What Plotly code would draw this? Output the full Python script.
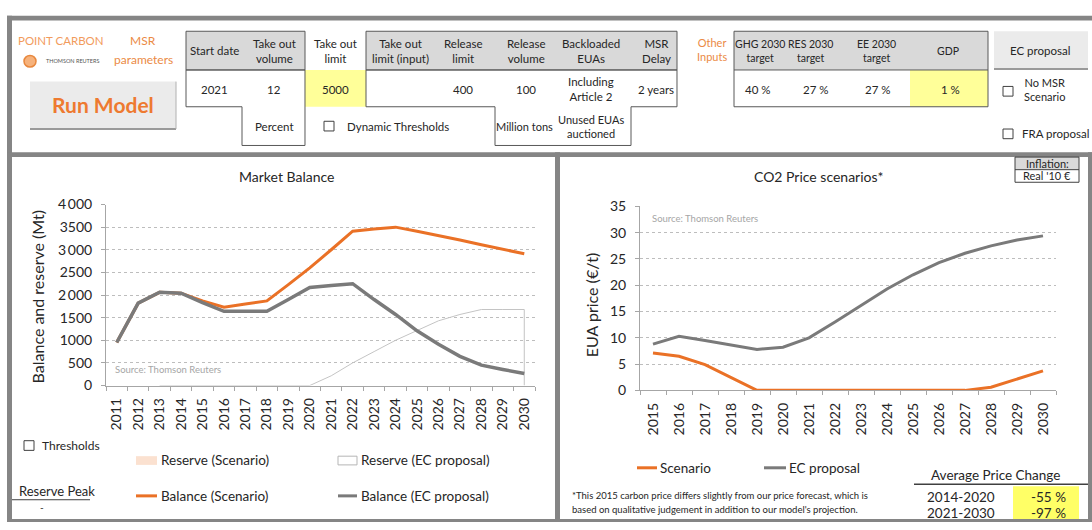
import plotly.graph_objects as go

############################################################
# Data #####################################################

mb_years = ['2011', '2012', '2013', '2014', '2015', '2016', '2017', '2018', '2019', '2020',
            '2021', '2022', '2023', '2024', '2025', '2026', '2027', '2028', '2029', '2030']
balance_scenario = [950, 1820, 2060, 2040, 1870, 1730, 1800, 1870, 2230, 2600,
                    3000, 3410, 3460, 3500, 3410, 3320, 3215, 3110, 3010, 2910]
balance_ec = [950, 1820, 2060, 2040, 1830, 1640, 1640, 1640, 1900, 2165,
              2210, 2250, 1900, 1570, 1210, 910, 645, 450, 355, 265]
reserve_scenario = [None, None, 0, 0, 0, 0, 0, 0, 0, 0,
                    0, 0, 0, 0, 0, 0, 0, 0, 0, 0]
reserve_ec = [None, None, 0, 0, 0, 0, 0, 0, 0, 0,
              215, 500, 750, 1000, 1215, 1430, 1570, 1680, 1680, 1680]
mb_tickvals = [0, 500, 1000, 1500, 2000, 2500, 3000, 3500, 4000]
mb_ticktext = ['0', '500', '1000', '1500', '2\u2009000', '2500', '3\u2009000', '3500', '4\u2009000']

px_years = ['2015', '2016', '2017', '2018', '2019', '2020', '2021', '2022',
            '2023', '2024', '2025', '2026', '2027', '2028', '2029', '2030']
price_scenario = [7.1, 6.5, 4.9, 2.4, 0, 0, 0, 0, 0, 0, 0, 0, 0, 0.6, 2.1, 3.7]
price_ec = [8.8, 10.3, 9.5, 8.6, 7.8, 8.2, 10.0, 13.0, 16.2, 19.3, 22.0, 24.3, 26.1, 27.5, 28.6, 29.4]
px_tickvals = [0, 5, 10, 15, 20, 25, 30, 35]

msr_headers = ['Start date', 'Take out<br>volume', 'Take out<br>limit', 'Take out<br>limit (input)',
               'Release<br>limit', 'Release<br>volume', 'Backloaded<br>EUAs', 'MSR<br>Delay']
msr_values = ['2021', '12', '5000', '', '400', '100', 'Including<br>Article 2', '2 years']
other_headers = ['GHG 2030<br>target', 'RES 2030<br>target', 'EE 2030<br>target', 'GDP']
other_values = ['40 %', '27 %', '27 %', '1 %']
price_periods = ['2014-2020', '2021-2030']
price_changes = ['-55 %', '-97 %']

############################################################
# Style ####################################################

W, H = 1092, 530
FONT = 'Lato'
ORANGE = '#ea7126'
DGRAY = '#7a7a7a'
FRAME = '#858585'
TXT = '#262626'

def X(p):
  return p / W

def Y(p):
  return 1 - p / H

shapes = []
annots = []

def rect(x0, y0, x1, y1, fill='rgba(0,0,0,0)', line=None, width=1):
  shapes.append(dict(type='rect', xref='paper', yref='paper',
    x0=X(x0), x1=X(x1), y0=Y(y0), y1=Y(y1), fillcolor=fill,
    line=dict(color=line or 'rgba(0,0,0,0)', width=width if line else 0), layer='below'))

def seg(x0, y0, x1, y1, color, width=1, dash='solid'):
  shapes.append(dict(type='line', xref='paper', yref='paper',
    x0=X(x0), x1=X(x1), y0=Y(y0), y1=Y(y1), line=dict(color=color, width=width, dash=dash)))

def path(pts, color='#595959', width=1):
  d = 'M ' + ' L '.join('%f,%f' % (X(a), Y(b)) for a, b in pts) + ' Z'
  shapes.append(dict(type='path', xref='paper', yref='paper', path=d,
    line=dict(color=color, width=width), fillcolor='rgba(0,0,0,0)'))

def text(x, y, s, size=12, color=TXT, anchor='center', angle=0, bold=False, family=FONT):
  if bold:
    s = '<b>' + s + '</b>'
  annots.append(dict(xref='paper', yref='paper', x=X(x), y=Y(y), text=s, showarrow=False,
    xanchor=anchor, yanchor='middle', textangle=angle,
    font=dict(family=family, size=size, color=color)))

def checkbox(x, y):
  rect(x - 5, y - 5, x + 5, y + 5, fill='white', line='#404040', width=1)

############################################################
# Frame and top panel ######################################

rect(7, 7, 1092, 12, fill=FRAME)
rect(7, 7, 12, 530, fill=FRAME)
rect(7, 148, 1092, 153, fill=FRAME)
rect(555, 148, 560, 530, fill=FRAME)
rect(7, 527, 1092, 530, fill=FRAME)
rect(1088, 148, 1092, 530, fill=FRAME)

text(61, 33, 'POINT CARBON', size=11.5, color='#f29b5c')
shapes.append(dict(type='circle', xref='paper', yref='paper', x0=X(24), x1=X(36), y0=Y(48), y1=Y(60),
  fillcolor='#f6b27c', line=dict(color='#e8883e', width=1.5)))
text(72, 54, 'THOMSON REUTERS', size=5.5, color='#555555')
text(143, 33, 'MSR', size=12, color='#eb8a45')
text(143, 52, 'parameters', size=12, color='#eb8a45')

rect(30, 75, 176, 124, fill='#ebebeb')
seg(30, 124, 176, 124, '#9a9a9a', 2)
seg(176, 75, 176, 124, '#b0b0b0', 1)
text(103, 99, 'Run Model', size=21, color='#ee7a30', bold=True)

# MSR table
rect(186, 23, 305, 63, fill='#d9d9d9', line='#595959')
rect(366, 23, 677, 63, fill='#d9d9d9', line='#595959')
rect(305, 63, 366, 101, fill='#ffff99')
path([(186, 63), (305, 63), (305, 141), (242, 141), (242, 101), (186, 101)])
path([(366, 63), (677, 63), (677, 101), (631, 101), (631, 141), (495, 141), (495, 101), (366, 101)])
msr_x = [214, 274, 335, 400, 463, 526, 591, 656]
for i, h in enumerate(msr_headers):
  text(msr_x[i], 43, h, size=11.5)
  text(msr_x[i], 83, msr_values[i], size=11.5)
text(274, 121, 'Percent', size=11.5)
checkbox(329, 121)
text(345, 121, 'Dynamic Thresholds', size=11.5, anchor='left')
text(524, 121, 'Million tons', size=11)
text(591, 121, 'Unused EUAs<br>auctioned', size=11)

# other inputs table
text(712, 42, 'Other<br>Inputs', size=11, color='#eb8a45')
rect(734, 23, 988, 63, fill='#d9d9d9')
rect(910, 63, 988, 101, fill='#ffff99')
rect(734, 23, 988, 101, line='#595959')
seg(734, 63, 988, 63, '#595959')
oth_hx = [760, 810, 876, 948]
oth_vx = [758, 816, 878, 950]
for i, h in enumerate(other_headers):
  text(oth_hx[i], 43, h, size=10.5)
  text(oth_vx[i], 83, other_values[i], size=11.5)

rect(994, 23, 1088, 62, fill='#ebebeb')
seg(994, 62, 1088, 62, '#9a9a9a', 2)
text(1040, 43, 'EC proposal', size=11.5)
checkbox(1008, 85)
text(1044, 83, 'No MSR<br>Scenario', size=11)
checkbox(1008, 129)
text(1020, 129, 'FRA proposal', size=11.5, anchor='left')

############################################################
# Market balance panel #####################################

text(286, 173, 'Market Balance', size=14)
text(37, 298, 'Balance and reserve (Mt)', size=16, angle=-90)
text(113, 372, 'Source: Thomson Reuters', size=9.5, color='#a6a6a6', anchor='left')

checkbox(29, 451)
text(40, 451, 'Thresholds', size=12, anchor='left')
rect(136, 462, 157, 471, fill='#fbe1d0')
text(159, 466, 'Reserve (Scenario)', size=13.5, anchor='left')
rect(338, 462, 357, 471, fill='white', line='#b5b5b5')
text(359, 466, 'Reserve (EC proposal)', size=13.5, anchor='left')
seg(136, 503, 157, 503, ORANGE, 3)
text(159, 503, 'Balance (Scenario)', size=13.5, anchor='left')
seg(338, 503, 357, 503, DGRAY, 3)
text(359, 503, 'Balance (EC proposal)', size=13.5, anchor='left')
text(17, 498, 'Reserve Peak', size=13, anchor='left')
seg(12, 507, 90, 507, '#404040', 1)
text(42, 515, '-', size=10)

############################################################
# CO2 price panel ##########################################

text(818, 173, 'CO2 Price scenarios*', size=14)
rect(1015, 153, 1079, 166, fill='#d9d9d9')
rect(1015, 153, 1079, 179, line='#404040')
seg(1015, 166, 1079, 166, '#404040')
text(1047, 160, 'Inflation:', size=11)
text(1047, 172.5, "Real '10 €", size=11)
text(591, 306, 'EUA price (€/t)', size=16, angle=-90)
text(650, 216, 'Source: Thomson Reuters', size=9.5, color='#a6a6a6', anchor='left')

seg(637, 474, 657, 474, ORANGE, 3)
text(658, 474, 'Scenario', size=13.5, anchor='left')
seg(764, 474, 786, 474, DGRAY, 3)
text(787, 474, 'EC proposal', size=13.5, anchor='left')
text(570, 503, '*This 2015 carbon price differs slightly from our price forecast, which is', size=9.5, anchor='left')
text(570, 517, "based on qualitative judgement in addition to our model's projection.", size=9.5, anchor='left')

text(995, 481, 'Average Price Change', size=13.5)
seg(914, 491, 1088, 491, '#404040', 1.5)
rect(1013, 493, 1079, 527, fill='#ffff66')
for i, p in enumerate(price_periods):
  yy = [504, 521][i]
  text(961, yy, p, size=13.5)
  text(1048, yy, price_changes[i], size=13.5)

############################################################
# Traces ###################################################

fig = go.Figure()

fig.add_trace(go.Scatter(x=mb_years, y=reserve_scenario, mode='lines', fill='tozeroy',
  fillcolor='#fbe1d0', line=dict(width=0, color='#fbe1d0'), xaxis='x', yaxis='y'))
fig.add_trace(go.Scatter(x=mb_years + [mb_years[-1]], y=reserve_ec + [0], mode='lines',
  line=dict(width=1, color='#c4c4c4'), xaxis='x', yaxis='y'))
fig.add_trace(go.Scatter(x=mb_years, y=balance_scenario, mode='lines',
  line=dict(width=3, color=ORANGE), xaxis='x', yaxis='y'))
fig.add_trace(go.Scatter(x=mb_years, y=balance_ec, mode='lines',
  line=dict(width=3.5, color=DGRAY), xaxis='x', yaxis='y'))

fig.add_trace(go.Scatter(x=px_years, y=price_scenario, mode='lines',
  line=dict(width=3, color=ORANGE), xaxis='x2', yaxis='y2'))
fig.add_trace(go.Scatter(x=px_years, y=price_ec, mode='lines',
  line=dict(width=3, color=DGRAY), xaxis='x2', yaxis='y2'))

xcommon = dict(type='category', tickangle=-90, tickson='boundaries', ticks='outside', ticklen=4,
  tickcolor='#a6a6a6', showline=True, linecolor='#a6a6a6', showgrid=False, ticklabelstandoff=6,
  tickfont=dict(family=FONT, size=14, color=TXT), fixedrange=True)
ycommon = dict(showline=True, linecolor='#a6a6a6', ticks='outside', ticklen=4, tickcolor='#a6a6a6',
  showgrid=True, gridcolor='#bdbdbd', griddash='dot', gridwidth=1, zeroline=False,
  ticklabelstandoff=6, tickfont=dict(family=FONT, size=14, color=TXT), fixedrange=True)

fig.update_layout(
  width=W, height=H,
  margin=dict(l=0, r=0, t=0, b=0),
  paper_bgcolor='white', plot_bgcolor='white',
  showlegend=False,
  font=dict(family=FONT, color=TXT),
  xaxis=dict(xcommon, domain=[X(106), X(535)], range=[-0.5, 19.5], anchor='y'),
  yaxis=dict(ycommon, domain=[Y(389), Y(202)], range=[0, 4000], tickvals=mb_tickvals,
    ticktext=mb_ticktext, anchor='x'),
  xaxis2=dict(xcommon, domain=[X(640), X(1056)], range=[-0.5, 15.5], anchor='y2'),
  yaxis2=dict(ycommon, domain=[Y(394), Y(204)], range=[0, 35], tickvals=px_tickvals, anchor='x2'),
  shapes=shapes,
  annotations=annots,
)

# the page's default body margin would shift the figure by 8px
fig.write_html("out.html", config={'displayModeBar': False},
  post_script="document.body.style.margin='0';")
